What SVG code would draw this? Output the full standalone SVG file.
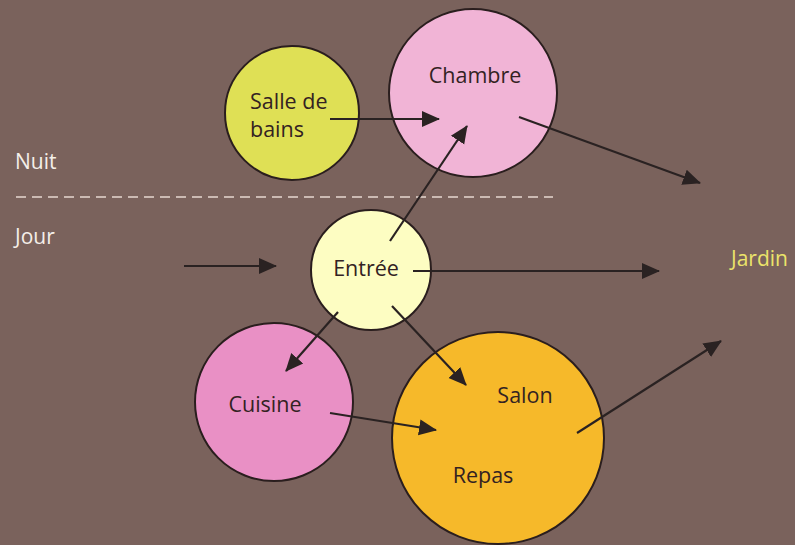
<svg xmlns="http://www.w3.org/2000/svg" width="795" height="545" viewBox="0 0 795 545">
<style>
.node{stroke:#2a1e1e;stroke-width:2}
.lbl{font-family:"Open Sans","Liberation Sans",sans-serif;font-size:21.5px;fill:#332222}
.side{font-family:"Open Sans","Liberation Sans",sans-serif;font-size:21px;fill:#f4efe9}
.edge{stroke:#2a2222;stroke-width:2.2;fill:none;marker-end:url(#ah)}
</style>
<defs>
<marker id="ah" markerUnits="userSpaceOnUse" markerWidth="18" markerHeight="18" viewBox="0 0 18 18" refX="17" refY="9" orient="auto">
<path d="M0,1 L18,9 L0,17 Z" fill="#2a2222"/>
</marker>
</defs>
<rect width="795" height="545" fill="#7a625c"/>
<line x1="16" y1="197" x2="553" y2="197" stroke="#e6d8cf" stroke-width="1.6" stroke-dasharray="10,6"/>
<text class="side" x="15" y="169">Nuit</text>
<text class="side" x="15" y="244">Jour</text>
<g id="salle-de-bains">
<circle class="node" cx="292" cy="113" r="67" fill="#dfe055"/>
<text class="lbl" x="250" y="109">Salle de</text>
<text class="lbl" x="250" y="137">bains</text>
</g>
<g id="chambre">
<circle class="node" cx="473" cy="93" r="84" fill="#f1b4d6"/>
<text class="lbl" x="475" y="83" text-anchor="middle">Chambre</text>
</g>
<g id="entree">
<circle class="node" cx="371" cy="270" r="60" fill="#fdfdc2"/>
<text class="lbl" x="366" y="276" text-anchor="middle">Entrée</text>
</g>
<g id="cuisine">
<circle class="node" cx="274" cy="402" r="79" fill="#e990c5"/>
<text class="lbl" x="265" y="412" text-anchor="middle">Cuisine</text>
</g>
<g id="salon-repas">
<circle class="node" cx="498" cy="438" r="106" fill="#f6b92a"/>
<text class="lbl" x="525" y="403" text-anchor="middle">Salon</text>
<text class="lbl" x="483" y="483" text-anchor="middle">Repas</text>
</g>
<g id="jardin">
<text x="731" y="266" font-family="'Open Sans','Liberation Sans',sans-serif" font-size="21" fill="#ebe46a">Jardin</text>
</g>
<g id="connectors">
<line class="edge" x1="330" y1="119" x2="439" y2="119"/>
<line class="edge" x1="390" y1="241" x2="467" y2="126"/>
<line class="edge" x1="519" y1="117" x2="700" y2="183"/>
<line class="edge" x1="184" y1="266" x2="276" y2="266"/>
<line class="edge" x1="413" y1="271" x2="659" y2="271"/>
<line class="edge" x1="338" y1="312" x2="286" y2="371"/>
<line class="edge" x1="392" y1="306" x2="466" y2="385"/>
<line class="edge" x1="330" y1="413" x2="436" y2="430"/>
<line class="edge" x1="577" y1="433" x2="721" y2="341"/>
</g>
</svg>
